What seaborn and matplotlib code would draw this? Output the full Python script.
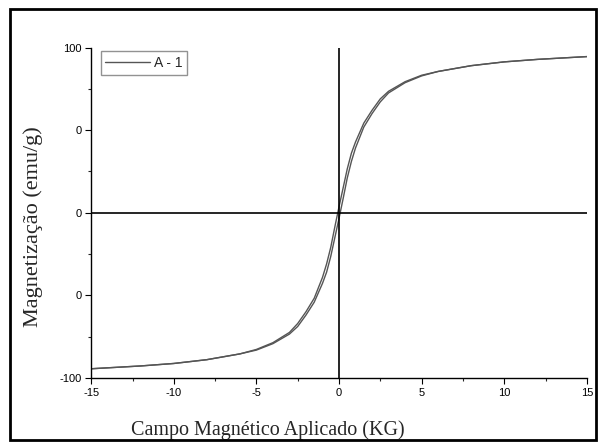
import matplotlib
matplotlib.use("Agg")
import matplotlib.pyplot as plt
import seaborn as sns
import pandas as pd
from matplotlib.patches import Rectangle
from matplotlib.ticker import MultipleLocator

# Field (kG) and magnetization (emu/g) for both branches of the loop
field = [-15, -12, -10, -8, -6, -5, -4, -3, -2.5, -2, -1.5, -1.25, -1, -0.75,
         -0.5, -0.25, 0, 0.25, 0.5, 0.75, 1, 1.25, 1.5, 2, 2.5, 3, 4, 5, 6,
         8, 10, 12, 15]
m_down = [-94.5, -92.8, -91.3, -89, -85.5, -82.8, -78.7, -72.5, -67.1, -60,
          -51.8, -45.5, -39.2, -31, -21, -8.5, 3.5, 15, 26.5, 36, 42.8, 48.5,
          54.2, 62, 68.9, 73.5, 79.3, 83.2, 85.5, 89, 91.3, 92.8, 94.5]
m_up = [-94.5, -92.8, -91.3, -89, -85.5, -83.2, -79.3, -73.5, -68.9, -62,
        -54.2, -48.5, -42.8, -36, -26.5, -15, -3.5, 8.5, 21, 31, 39.2, 45.5,
        51.8, 60, 67.1, 72.5, 78.7, 82.8, 85.5, 89, 91.3, 92.8, 94.5]

x_ticks = [-15, -10, -5, 0, 5, 10, 15]
x_labels = ["-15", "-10", "-5", "0", "5", "10", "15"]
y_ticks = [-100, -50, 0, 50, 100]
y_labels = ["-100", "0", "0", "0", "100"]

df = pd.concat([
    pd.DataFrame({"H": field, "M": m_down, "ramo": "desc"}),
    pd.DataFrame({"H": field, "M": m_up, "ramo": "asc"}),
])

sns.set_style("ticks")
plt.rcParams["font.family"] = ["Liberation Sans", "DejaVu Sans"]

fig = plt.figure(figsize=(6, 4.44), dpi=100)
ax = fig.add_axes([0.152, 0.149, 0.826, 0.744])

sns.lineplot(data=df, x="H", y="M", units="ramo", estimator=None, sort=False,
             color="#555555", linewidth=1.0, ax=ax, legend=False)

ax.axhline(0, color="black", linewidth=1.2)
ax.axvline(0, color="black", linewidth=1.2)

ax.set_xlim(-15, 15)
ax.set_ylim(-100, 100)
ax.set_xticks(x_ticks)
ax.set_xticklabels(x_labels)
ax.set_yticks(y_ticks)
ax.set_yticklabels(y_labels)
ax.xaxis.set_minor_locator(MultipleLocator(2.5))
ax.yaxis.set_minor_locator(MultipleLocator(25))
ax.tick_params(which="major", direction="out", length=4, width=0.8,
               labelsize=8, pad=3, colors="black")
ax.tick_params(which="minor", direction="out", length=2.5, width=0.8)

for s in ["top", "right"]:
    ax.spines[s].set_visible(False)
for s in ["left", "bottom"]:
    ax.spines[s].set_color("black")
    ax.spines[s].set_linewidth(1.0)

# label positions in the original sit off-centre
ax.set_xlabel("Campo Magnético Aplicado (KG)", family="Liberation Serif",
              fontsize=14.5)
ax.xaxis.set_label_coords(0.357, -0.127)
ax.set_ylabel("Magnetização (emu/g)", family="Liberation Serif",
              fontsize=16)
ax.yaxis.set_label_coords(-0.098, 0.457)

handle = ax.lines[0]
leg = ax.legend([handle], ["A - 1"], loc="upper left",
                bbox_to_anchor=(0.005, 1.01), frameon=True,
                fancybox=False, edgecolor="#777777", fontsize=10,
                handlelength=3.2, handletextpad=0.3, borderpad=0.35)
leg.get_frame().set_linewidth(1.0)

fig.patches.append(Rectangle((0.016, 0.008), 0.978, 0.972, transform=fig.transFigure,
                             fill=False, edgecolor="black", linewidth=2))

fig.savefig("out.png", dpi=100)
